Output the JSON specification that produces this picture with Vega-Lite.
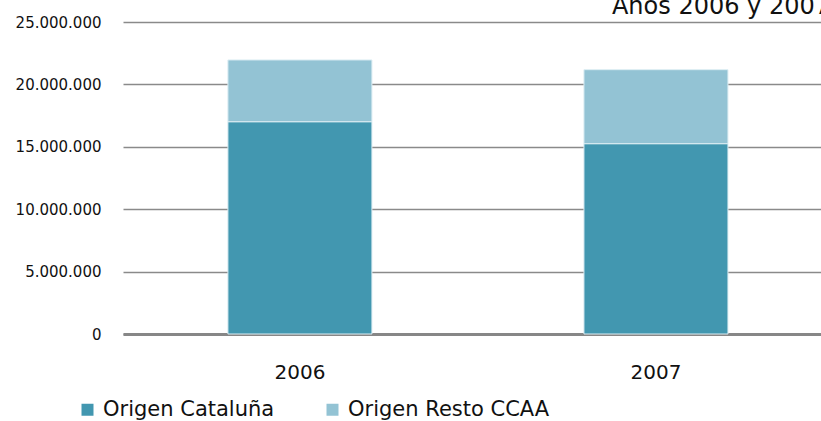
{
  "$schema": "https://vega.github.io/schema/vega-lite/v6.json",
  "width": 698,
  "height": 312,
  "autosize": {"type": "none"},
  "padding": {"left": 123, "top": 22, "right": 0, "bottom": 87},
  "background": "white",
  "title": {
    "text": "Años 2006 y 2007",
    "anchor": "end",
    "frame": "group",
    "orient": "top",
    "dx": 9,
    "dy": 23,
    "offset": 0,
    "baseline": "alphabetic",
    "font": "DejaVu Sans",
    "fontSize": 24,
    "fontWeight": "normal",
    "color": "#111111"
  },
  "config": {
    "view": {"stroke": null},
    "locale": {"number": {"decimal": ",", "thousands": ".", "grouping": [3], "currency": ["", " €"]}}
  },
  "data": {
    "values": [
      {"year": "2006", "origen": "Origen Cataluña", "value": 17010000},
      {"year": "2006", "origen": "Origen Resto CCAA", "value": 4950000},
      {"year": "2007", "origen": "Origen Cataluña", "value": 15250000},
      {"year": "2007", "origen": "Origen Resto CCAA", "value": 5930000}
    ]
  },
  "mark": {"type": "bar", "stroke": "#dcedf3", "strokeWidth": 1},
  "encoding": {
    "x": {
      "field": "year",
      "type": "nominal",
      "scale": {"type": "band", "paddingInner": 0.5955, "paddingOuter": 0.278, "align": 0.53},
      "axis": {
        "title": null,
        "labelAngle": 0,
        "labelFont": "DejaVu Sans",
        "labelFontSize": 20,
        "labelColor": "#111111",
        "labelPadding": 28,
        "ticks": false,
        "domain": true,
        "domainColor": "#878787",
        "domainWidth": 3,
        "grid": false
      }
    },
    "y": {
      "field": "value",
      "type": "quantitative",
      "stack": "zero",
      "scale": {"domain": [0, 25000000], "nice": false},
      "axis": {
        "title": null,
        "values": [0, 5000000, 10000000, 15000000, 20000000, 25000000],
        "format": ",d",
        "labelFont": "DejaVu Sans",
        "labelFontSize": 15,
        "labelColor": "#111111",
        "labelPadding": 22,
        "ticks": false,
        "domain": false,
        "grid": true,
        "gridColor": "#8a8a8a",
        "gridWidth": 1.5
      }
    },
    "color": {
      "field": "origen",
      "type": "nominal",
      "scale": {"domain": ["Origen Cataluña", "Origen Resto CCAA"], "range": ["#4297B0", "#93C3D4"]},
      "legend": {
        "title": null,
        "orient": "none",
        "direction": "horizontal",
        "legendX": -46,
        "legendY": 377,
        "padding": 0,
        "symbolType": "square",
        "symbolSize": 144,
        "symbolStrokeWidth": 0,
        "labelFont": "DejaVu Sans",
        "labelFontSize": 21,
        "labelColor": "#111111",
        "labelOffset": 5,
        "columnPadding": 47,
        "labelLimit": 400
      }
    },
    "order": {"field": "origen", "type": "nominal", "sort": "ascending"}
  }
}
